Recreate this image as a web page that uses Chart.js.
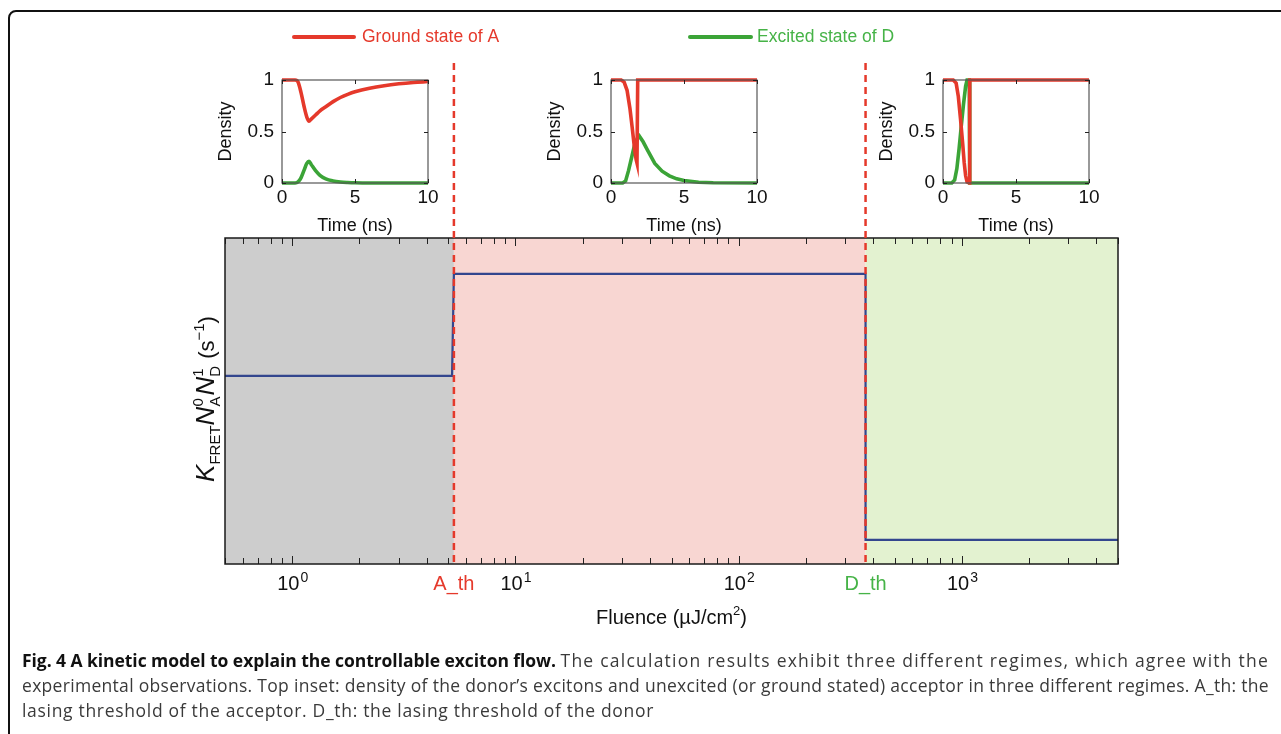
<!DOCTYPE html>
<html>
<head>
<meta charset="utf-8">
<script src="https://cdn.jsdelivr.net/npm/chart.js@4.4.1/dist/chart.umd.min.js"></script>
<style>
    html, body { margin: 0; padding: 0; background: #fff; overflow: hidden; }
    body { width: 1281px; height: 734px; position: relative; font-family: "Liberation Sans", Arial, sans-serif; }
    #frame { position: absolute; left: 8px; top: 10px; width: 1320px; height: 800px; border: 2px solid #111; border-radius: 8px; box-sizing: border-box; }
    canvas { position: absolute; }
    #caption {
        position: absolute; left: 22px; top: 648px; width: 1255px;
        font-family: "Open Sans", "Noto Sans", "Liberation Sans", sans-serif;
        font-size: 17.5px; line-height: 25px; color: #3a3a3a; white-space: nowrap;
    }
    #caption b { color: #111; }
</style>
</head>
<body>
<div id="frame"></div>
<canvas id="mainChart" width="1281" height="734" style="left:0;top:0"></canvas>
<canvas id="inset1" width="246" height="175" style="left:202px;top:60px"></canvas>
<canvas id="inset2" width="246" height="175" style="left:531px;top:60px"></canvas>
<canvas id="inset3" width="246" height="175" style="left:863px;top:60px"></canvas>
<div id="caption"><b id="c0">Fig. 4 A kinetic model to explain the controllable exciton flow.</b> <span id="c1">The calculation results exhibit three different regimes, which agree with the</span><br><span id="c2">experimental observations. Top inset: density of the donor’s excitons and unexcited (or ground stated) acceptor in three different regimes. A_th: the</span><br><span id="c3">lasing threshold of the acceptor. D_th: the lasing threshold of the donor</span></div>
<script>
// Main panel data (fluence in µJ/cm², rate in arbitrary units)
const fluence = [0.5, 5.2, 5.3, 370, 370, 5000];
const fretRate = [0.577, 0.577, 0.89, 0.89, 0.074, 0.074];
const fluenceMin = 0.5;
const fluenceMax = 5000;
const thresholds = [5.3, 370];
const thresholdLabels = ['A_th', 'D_th'];
const regionStarts = [0.5, 5.3, 370];
const regionEnds = [5.3, 370, 5000];
const decadeTicks = [1, 10, 100, 1000];
const decadeExponents = ['0', '1', '2', '3'];

// Inset data (time in ns, density)
const time1 = [0, 0.5, 0.9, 1.1, 1.3, 1.5, 1.7, 1.85, 2.0, 2.3, 2.6, 3.0, 3.5, 4.0, 4.5, 5.0, 6.0, 7.0, 8.0, 9.0, 10];
const ground1 = [1, 1, 1, 0.98, 0.88, 0.75, 0.64, 0.6, 0.62, 0.66, 0.7, 0.74, 0.79, 0.83, 0.86, 0.885, 0.92, 0.945, 0.963, 0.976, 0.985];
const excited1 = [0, 0, 0, 0.01, 0.05, 0.12, 0.19, 0.21, 0.18, 0.12, 0.075, 0.04, 0.02, 0.01, 0.005, 0.002, 0, 0, 0, 0, 0];

const time2Ground = [0, 0.7, 0.9, 1.1, 1.3, 1.45, 1.6, 1.72, 1.78, 1.83, 2.0, 10];
const ground2 = [1, 1, 0.98, 0.9, 0.72, 0.54, 0.35, 0.23, 0.195, 1, 1, 1];
const time2Excited = [0, 0.8, 1.0, 1.2, 1.4, 1.6, 1.8, 1.94, 2.2, 2.5, 3.0, 3.5, 4.0, 4.5, 5.0, 6.0, 7.0, 10];
const excited2 = [0, 0, 0.02, 0.12, 0.24, 0.36, 0.43, 0.455, 0.4, 0.32, 0.19, 0.115, 0.07, 0.04, 0.025, 0.008, 0.002, 0];

const time3Ground = [0, 0.7, 0.9, 1.05, 1.2, 1.35, 1.45, 1.55, 1.65, 1.8, 1.83, 10];
const ground3 = [1, 1, 0.97, 0.84, 0.62, 0.38, 0.2, 0.07, 0.01, 0, 1, 1];
const time3Excited = [0, 0.6, 0.8, 0.95, 1.1, 1.25, 1.4, 1.55, 1.65, 1.8, 1.83, 10];
const excited3 = [0, 0, 0.03, 0.14, 0.33, 0.55, 0.76, 0.94, 1, 1, 0, 0];

const insetTimeTicks = [0, 5, 10];
const insetDensityTicks = [0, 0.5, 1];
const insetDensityLabels = ['0', '0.5', '1'];

// Colours
const RED = '#e5392b';
const GREEN_LINE = '#3ba437';
const GREEN_TEXT = '#46b347';
const BLUE = '#33468e';
const REGION_COLORS = ['#cdcdcd', '#f8d6d2', '#e3f2d0'];
const FONT = '"Liberation Sans", Arial, sans-serif';

Chart.defaults.font.family = FONT;

// stretch or squeeze each caption span so it ends where it does in the figure
function fitCaption() {
    const targets = { c0: 556, c1: 1269, c2: 1269, c3: 654 };
    Object.keys(targets).forEach(id => {
        const el = document.getElementById(id);
        const r = el.getBoundingClientRect();
        const n = el.textContent.length;
        const extra = (targets[id] - r.right) / n;
        el.style.letterSpacing = extra.toFixed(3) + 'px';
    });
}
fitCaption();

// text with superscript, centred at cx
function drawPower(ctx, base, exp, cx, baseline, size) {
    ctx.font = size + 'px ' + FONT;
    const wb = ctx.measureText(base).width;
    ctx.font = Math.round(size * 0.68) + 'px ' + FONT;
    const we = ctx.measureText(exp).width;
    const start = cx - (wb + we) / 2;
    ctx.textAlign = 'left';
    ctx.font = size + 'px ' + FONT;
    ctx.fillText(base, start, baseline);
    ctx.font = Math.round(size * 0.68) + 'px ' + FONT;
    ctx.fillText(exp, start + wb + 1, baseline - size * 0.42);
}

function drawYTitle(ctx, cx, cy) {
    const big = 'italic 26px ' + FONT;
    const mid = '22px ' + FONT;
    const small = '15px ' + FONT;
    const parts = [
        { text: 'K', font: big, dy: 0 },
        { text: 'FRET', font: small, dy: 6 },
        { text: 'N', font: big, dy: 0 },
        { sup: '0', sub: 'A' },
        { text: 'N', font: big, dy: 0 },
        { sup: '1', sub: 'D' },
        { text: ' (s', font: mid, dy: 0 },
        { text: '\u22121', font: small, dy: -10 },
        { text: ')', font: mid, dy: 0 }
    ];
    let total = 0;
    parts.forEach(p => {
        ctx.font = p.font || small;
        if (p.text !== undefined) {
            p.w = ctx.measureText(p.text).width;
        } else {
            p.w = Math.max(ctx.measureText(p.sup).width, ctx.measureText(p.sub).width) + 1;
        }
        total += p.w;
    });
    ctx.save();
    ctx.translate(cx, cy);
    ctx.rotate(-Math.PI / 2);
    ctx.fillStyle = '#111';
    ctx.textAlign = 'left';
    ctx.textBaseline = 'alphabetic';
    let xPos = -total / 2;
    parts.forEach(p => {
        if (p.text !== undefined) {
            ctx.font = p.font;
            ctx.fillText(p.text, xPos, p.dy);
        } else {
            ctx.font = small;
            ctx.fillText(p.sup, xPos, -11);
            ctx.fillText(p.sub, xPos, 6);
        }
        xPos += p.w;
    });
    ctx.restore();
}

// Background regions, box, ticks, threshold lines and labels for the main panel
const mainDecor = {
    id: 'mainDecor',
    beforeDatasetsDraw(chart) {
        const { ctx, chartArea: a, scales: { x } } = chart;
        ctx.save();
        regionStarts.forEach((s, i) => {
            const x0 = x.getPixelForValue(s);
            const x1 = x.getPixelForValue(regionEnds[i]);
            ctx.fillStyle = REGION_COLORS[i];
            ctx.fillRect(x0, a.top, x1 - x0, a.bottom - a.top);
        });
        ctx.restore();
    },
    afterDatasetsDraw(chart) {
        const { ctx, chartArea: a, scales: { x } } = chart;
        ctx.save();

        // minor and major ticks, pointing inwards
        ctx.strokeStyle = '#222';
        ctx.lineWidth = 1;
        for (let d = 0.1; d <= 1000; d *= 10) {
            for (let m = 1; m <= 9; m++) {
                const v = d * m;
                if (v < fluenceMin || v > fluenceMax) continue;
                const px = Math.round(x.getPixelForValue(v)) + 0.5;
                const len = m === 1 ? 8 : 6;
                ctx.beginPath();
                ctx.moveTo(px, a.bottom); ctx.lineTo(px, a.bottom - len);
                ctx.moveTo(px, a.top); ctx.lineTo(px, a.top + len);
                ctx.stroke();
            }
        }

        // box
        ctx.strokeStyle = '#1a1a1a';
        ctx.lineWidth = 1.5;
        ctx.strokeRect(a.left, a.top, a.right - a.left, a.bottom - a.top);

        // threshold dashed lines
        ctx.strokeStyle = RED;
        ctx.lineWidth = 2.5;
        ctx.setLineDash([7, 5]);
        thresholds.forEach(t => {
            const px = x.getPixelForValue(t);
            ctx.beginPath();
            ctx.moveTo(px, 63);
            ctx.lineTo(px, a.bottom);
            ctx.stroke();
        });
        ctx.setLineDash([]);

        // tick labels
        ctx.fillStyle = '#111';
        ctx.textBaseline = 'alphabetic';
        decadeTicks.forEach((v, i) => {
            drawPower(ctx, '10', decadeExponents[i], x.getPixelForValue(v), 590, 20);
        });
        ctx.font = '20px ' + FONT;
        ctx.textAlign = 'center';
        thresholds.forEach((t, i) => {
            ctx.fillStyle = i === 0 ? RED : GREEN_TEXT;
            ctx.fillText(thresholdLabels[i], x.getPixelForValue(t), 590);
        });

        // x title
        ctx.fillStyle = '#111';
        ctx.font = '20px ' + FONT;
        const t1 = 'Fluence (\u00b5J/cm';
        const w1 = ctx.measureText(t1).width;
        ctx.font = '13px ' + FONT;
        const w2 = ctx.measureText('2').width;
        ctx.font = '20px ' + FONT;
        const w3 = ctx.measureText(')').width;
        let sx = (a.left + a.right) / 2 - (w1 + w2 + w3) / 2;
        ctx.textAlign = 'left';
        ctx.fillText(t1, sx, 624);
        ctx.font = '13px ' + FONT;
        ctx.fillText('2', sx + w1, 615);
        ctx.font = '20px ' + FONT;
        ctx.fillText(')', sx + w1 + w2, 624);

        // y title
        drawYTitle(ctx, 214, 399);

        // legend
        ctx.lineCap = 'round';
        ctx.lineWidth = 4;
        ctx.strokeStyle = RED;
        ctx.beginPath(); ctx.moveTo(294, 37); ctx.lineTo(354, 37); ctx.stroke();
        ctx.strokeStyle = GREEN_LINE;
        ctx.beginPath(); ctx.moveTo(690, 37); ctx.lineTo(751, 37); ctx.stroke();
        ctx.font = '17.5px ' + FONT;
        ctx.textBaseline = 'middle';
        ctx.fillStyle = RED;
        ctx.fillText('Ground state of A', 362, 37);
        ctx.fillStyle = GREEN_TEXT;
        ctx.fillText('Excited state of D', 757, 37);
        ctx.restore();
    }
};

new Chart(document.getElementById('mainChart'), {
    type: 'line',
    data: {
        datasets: [{
            data: fluence.map((f, i) => ({ x: f, y: fretRate[i] })),
            borderColor: BLUE,
            borderWidth: 2.2,
            pointRadius: 0,
            tension: 0,
            fill: false
        }]
    },
    options: {
        responsive: false,
        animation: false,
        layout: { padding: { left: 225, top: 238, right: 163, bottom: 170 } },
        scales: {
            x: { type: 'logarithmic', min: fluenceMin, max: fluenceMax, display: false },
            y: { type: 'linear', min: 0, max: 1, display: false }
        },
        plugins: { legend: { display: false }, tooltip: { enabled: false } }
    },
    plugins: [mainDecor]
});

// Box, inward ticks and labels for an inset
const insetDecor = {
    id: 'insetDecor',
    afterDatasetsDraw(chart) {
        const { ctx, chartArea: a, scales: { x, y } } = chart;
        ctx.save();
        ctx.strokeStyle = '#555';
        ctx.lineWidth = 1.2;
        ctx.strokeRect(a.left, a.top, a.right - a.left, a.bottom - a.top);
        ctx.strokeStyle = '#222';
        ctx.lineWidth = 1;
        insetTimeTicks.forEach(v => {
            const px = Math.round(x.getPixelForValue(v)) + 0.5;
            ctx.beginPath();
            ctx.moveTo(px, a.bottom); ctx.lineTo(px, a.bottom - 4);
            ctx.moveTo(px, a.top); ctx.lineTo(px, a.top + 4);
            ctx.stroke();
        });
        insetDensityTicks.forEach(v => {
            const py = Math.round(y.getPixelForValue(v)) + 0.5;
            ctx.beginPath();
            ctx.moveTo(a.left, py); ctx.lineTo(a.left + 4, py);
            ctx.moveTo(a.right, py); ctx.lineTo(a.right - 4, py);
            ctx.stroke();
        });
        ctx.fillStyle = '#111';
        ctx.font = '19px ' + FONT;
        ctx.textAlign = 'right';
        ctx.textBaseline = 'middle';
        insetDensityTicks.forEach((v, i) => {
            ctx.fillText(insetDensityLabels[i], a.left - 8, y.getPixelForValue(v));
        });
        ctx.textAlign = 'center';
        insetTimeTicks.forEach(v => {
            ctx.fillText(String(v), x.getPixelForValue(v), a.bottom + 15);
        });
        ctx.font = '18px ' + FONT;
        ctx.fillText('Time (ns)', (a.left + a.right) / 2, a.bottom + 43);
        ctx.save();
        ctx.translate(a.left - 56, (a.top + a.bottom) / 2);
        ctx.rotate(-Math.PI / 2);
        ctx.fillText('Density', 0, 0);
        ctx.restore();
        ctx.restore();
    }
};

function makeInset(id, tG, g, tE, e, smooth) {
    const common = {
        borderWidth: 3.6,
        pointRadius: 0,
        tension: 0,
        cubicInterpolationMode: smooth ? 'monotone' : 'default'
    };
    new Chart(document.getElementById(id), {
        type: 'line',
        data: {
            datasets: [
                Object.assign({ data: tG.map((t, i) => ({ x: t, y: g[i] })), borderColor: RED }, common),
                Object.assign({ data: tE.map((t, i) => ({ x: t, y: e[i] })), borderColor: GREEN_LINE }, common)
            ]
        },
        options: {
            responsive: false,
            animation: false,
            clip: false,
            layout: { padding: { left: 80, top: 20, right: 20, bottom: 52 } },
            scales: {
                x: { type: 'linear', min: 0, max: 10, display: false },
                y: { type: 'linear', min: 0, max: 1, display: false }
            },
            plugins: { legend: { display: false }, tooltip: { enabled: false } }
        },
        plugins: [insetDecor]
    });
}

makeInset('inset1', time1, ground1, time1, excited1, true);
makeInset('inset2', time2Ground, ground2, time2Excited, excited2, false);
makeInset('inset3', time3Ground, ground3, time3Excited, excited3, false);
</script>
</body>
</html>
